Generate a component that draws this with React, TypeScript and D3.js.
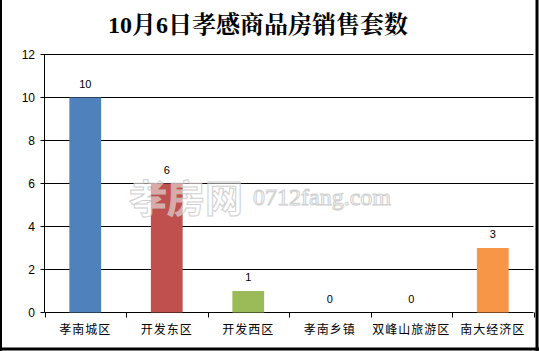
import React from "react";
import * as d3 from "d3";

const categories = ["孝南城区", "开发东区", "开发西区", "孝南乡镇", "双峰山旅游区", "南大经济区"];
const values = [10, 6, 1, 0, 0, 3];
const colors = ["#4F81BD", "#C0504D", "#9BBB59", "#8064A2", "#4BACC6", "#F79646"];
const yTicks = [0, 2, 4, 6, 8, 10, 12];
const title = "10月6日孝感商品房销售套数";

export default function App() {
  const W = 539, H = 351;
  const left = 44.5, right = 533.5, top = 54.5, bottom = 312.5;
  const x = d3.scaleBand<string>().domain(categories).range([left, right]).paddingInner(0).paddingOuter(0);
  const y = d3.scaleLinear().domain([0, 12]).range([bottom, top]);
  const bw = x.bandwidth() * 0.39;
  const font = "'Liberation Sans', 'Noto Sans CJK SC', sans-serif";
  return (
    <svg width={W} height={H} style={{ position: "fixed", left: 0, top: 0, background: "#fff" }}>
      <rect x={0} y={0} width={W} height={H} fill="#fff" />
      <line x1={1} x2={1} y1={0} y2={H} stroke="#000" strokeWidth={2} />
      <line x1={537} x2={537} y1={0} y2={H} stroke="#000" strokeWidth={3} />
      <line x1={0} x2={W} y1={349} y2={349} stroke="#000" strokeWidth={3} />
      <text x={258} y={33} textAnchor="middle" fontSize={24} fontWeight="bold"
        fontFamily="'Liberation Serif', 'Noto Serif CJK SC', 'Noto Sans CJK SC', serif" fill="#000">{title}</text>
      {yTicks.map(t => (
        <g key={t}>
          <line x1={left - 4} x2={t === 0 ? left : right} y1={y(t)} y2={y(t)} stroke="#000" strokeWidth={1} />
          <text x={35} y={y(t) + 4} textAnchor="end" fontSize={12} fontFamily={font} fill="#000">{t}</text>
        </g>
      ))}
      <line x1={left} x2={left} y1={top} y2={bottom} stroke="#000" strokeWidth={1} />
      <line x1={left} x2={right} y1={bottom} y2={bottom} stroke="#000" strokeWidth={1} />
      {[...categories.map(c => x(c) as number), right].map((p, i) => (
        <line key={i} x1={Math.round(p) + 0.5} x2={Math.round(p) + 0.5} y1={bottom} y2={bottom + 5} stroke="#000" strokeWidth={1} />
      ))}
      {categories.map((c, i) => {
        const cx = (x(c) as number) + x.bandwidth() / 2;
        return (
          <g key={c}>
            {values[i] > 0 && (
              <rect x={cx - bw / 2} y={y(values[i])} width={bw} height={bottom - y(values[i])} fill={colors[i]} />
            )}
            <text x={cx} y={y(values[i]) - 10} textAnchor="middle" fontSize={11} fontFamily={font} fill="#000">{values[i]}</text>
            <text x={cx} y={334} textAnchor="middle" fontSize={12} fontFamily={font} fill="#000" letterSpacing={1}>{c}</text>
          </g>
        );
      })}
      <g opacity={0.85}>
        <text x={129} y={212} fontSize={38} fontWeight="bold" fontFamily="'Noto Sans CJK SC', sans-serif"
          fill="#fff" fillOpacity={0.6} stroke="#c8c8c8" strokeWidth={1}>孝房网</text>
        <text x={253} y={205} fontSize={24} fontFamily="'Liberation Serif', serif"
          fill="#fff" fillOpacity={0.6} stroke="#c8c8c8" strokeWidth={1}>0712fang.com</text>
      </g>
    </svg>
  );
}
